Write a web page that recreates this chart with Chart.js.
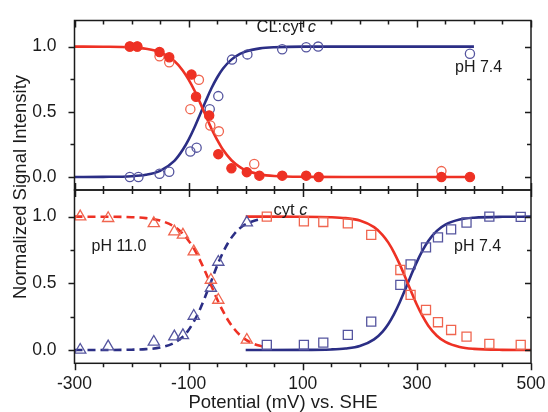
<!DOCTYPE html>
<html>
<head>
<meta charset="utf-8">
<script src="https://cdn.jsdelivr.net/npm/chart.js@4.4.0/dist/chart.umd.min.js"></script>
<style>
  html, body { margin: 0; padding: 0; background: #fff; }
  #wrap { position: relative; width: 548px; height: 412px; }
  #wrap canvas { position: absolute; left: 0; top: 0; }
</style>
</head>
<body>
<div id="wrap">
  <canvas id="topChart" width="548" height="412"></canvas>
  <canvas id="bottomChart" width="548" height="412"></canvas>
</div>
<script>
// axis ticks
var xTicks = [-300, -250, -200, -150, -100, -50, 0, 50, 100, 150, 200, 250, 300, 350, 400, 450, 500];
var xLabels = [-300, -100, 100, 300, 500];
var yTicks = [0, 0.25, 0.5, 0.75, 1];
var yLabels = [0, 0.5, 1];

// top panel: CL:cyt c, pH 7.4 (mV vs SHE)
var topRedPot = [-203, -190, -151, -134, -95, -87, -64, -48, -25, 2, 24, 64, 106, 128, 343, 393];
var topRedFilled = [1.0, 1.0, 0.958, 0.918, 0.785, 0.615, 0.472, 0.175, 0.066, 0.037, 0.01, 0.01, 0.01, 0.0, 0.0, 0.0];
var topRedOpenPot = [-203, -190, -151, -134, -97, -82, -62, -47, 15, 343];
var topRedOpen = [1.0, 1.0, 0.925, 0.88, 0.52, 0.745, 0.395, 0.35, 0.10, 0.045];
var topBluePot = [-203, -188, -151, -134, -97, -86, -63, -48, -24, 3, 64, 106, 127, 393];
var topBlueOpen = [0.0, 0.0, 0.025, 0.04, 0.195, 0.225, 0.52, 0.62, 0.90, 0.94, 0.98, 0.995, 1.0, 0.945];

var topFitPot = [-300, -250, -200, -175, -150, -125, -110, -100, -90, -80, -70, -60, -50, -40, -25, -10, 0, 25, 50, 100, 200, 400];
var topFitRed = [1.0, 0.999, 0.994, 0.983, 0.956, 0.889, 0.815, 0.746, 0.665, 0.57, 0.47, 0.37, 0.285, 0.21, 0.128, 0.075, 0.051, 0.02, 0.007, 0.001, 0, 0];
var topFitBlue = [0, 0.001, 0.006, 0.017, 0.047, 0.123, 0.21, 0.286, 0.377, 0.479, 0.582, 0.68, 0.763, 0.83, 0.9, 0.944, 0.963, 0.986, 0.995, 1.0, 1.0, 1.0];

// bottom panel: cyt c, pH 11.0 (triangles) and pH 7.4 (squares)
var triPot = [-290, -241, -161, -125, -110, -91, -61, -48, 2];
var triRed = [1.0, 0.988, 0.95, 0.888, 0.863, 0.738, 0.525, 0.375, 0.075];
var triBlue = [0.0, 0.025, 0.06, 0.1, 0.11, 0.255, 0.465, 0.66, 0.955];

var sqPot = [37, 102, 136, 179, 220, 271, 289, 316, 337, 360, 387, 427, 482];
var sqRed = [1.0, 0.965, 0.96, 0.95, 0.863, 0.6, 0.413, 0.3, 0.208, 0.15, 0.1, 0.045, 0.0375];
var sqBlue = [0.0375, 0.0375, 0.055, 0.113, 0.213, 0.488, 0.642, 0.77, 0.845, 0.905, 0.956, 1.0, 0.998];

var dashFitPot = [-300, -250, -200, -175, -150, -125, -110, -100, -90, -80, -70, -60, -50, -40, -30, -20, -10, 0, 15, 30];
var dashFitRed = [1.0, 0.9995, 0.996, 0.989, 0.971, 0.925, 0.872, 0.82, 0.755, 0.672, 0.579, 0.48, 0.38, 0.293, 0.217, 0.157, 0.111, 0.077, 0.044, 0.025];
var dashFitBlue = [0, 0, 0.002, 0.006, 0.018, 0.054, 0.1, 0.15, 0.22, 0.306, 0.41, 0.52, 0.633, 0.73, 0.81, 0.87, 0.914, 0.944, 0.97, 0.985];

var solidFitPot = [0, 100, 150, 175, 200, 225, 240, 250, 260, 270, 280, 290, 300, 310, 320, 335, 350, 375, 400, 450, 500];
var solidFitRed = [1.0, 0.9995, 0.996, 0.989, 0.971, 0.921, 0.862, 0.805, 0.731, 0.642, 0.542, 0.438, 0.339, 0.253, 0.182, 0.107, 0.06, 0.022, 0.008, 0.001, 0];
var solidFitBlue = [0, 0.0005, 0.004, 0.011, 0.029, 0.079, 0.138, 0.195, 0.269, 0.358, 0.458, 0.562, 0.661, 0.747, 0.818, 0.893, 0.94, 0.978, 0.992, 0.999, 1.0];

var RED = '#ee3124';
var RED_OPEN = '#f0654f';
var BLUE = '#2b2e85';
var BLUE_OPEN = '#55559f';
var INK = '#1b1b1b';
var FONT = '"Liberation Sans", Arial, sans-serif';

function pts(xs, ys) {
    return xs.map(function (x, i) { return { x: x, y: ys[i] }; });
}

function markers(xs, ys, style, color, filled, radius) {
    return {
        data: pts(xs, ys),
        pointStyle: style,
        pointRadius: radius,
        pointBorderWidth: 1.3,
        borderColor: color,
        backgroundColor: filled ? color : 'rgba(0,0,0,0)',
        showLine: false
    };
}

function fitLine(xs, ys, color, dashed) {
    return {
        data: pts(xs, ys),
        showLine: true,
        borderColor: color,
        borderWidth: 2.6,
        borderDash: dashed ? [8, 5] : [],
        pointRadius: 0,
        cubicInterpolationMode: 'monotone'
    };
}

function drawParts(ctx, parts, x, y, size) {
    parts.forEach(function (p) {
        ctx.font = (p[1] ? 'italic ' : '') + size + 'px ' + FONT;
        ctx.fillText(p[0], x, y);
        x += ctx.measureText(p[0]).width;
    });
}

var framePlugin = {
    id: 'frame',
    afterDatasetsDraw: function (chart, args, opts) {
        var ctx = chart.ctx, a = chart.chartArea;
        var xs = chart.scales.x, ys = chart.scales.y;
        ctx.save();
        ctx.strokeStyle = INK;
        ctx.lineWidth = 1.5;
        ctx.strokeRect(a.left, a.top, a.right - a.left, a.bottom - a.top);
        ctx.beginPath();
        xTicks.forEach(function (v) {
            var px = Math.round(xs.getPixelForValue(v)) + 0.5;
            var len = xLabels.indexOf(v) >= 0 ? 7 : 4;
            if (opts.panel === 'top') {
                ctx.moveTo(px, a.top); ctx.lineTo(px, a.top + len);
                ctx.moveTo(px, a.bottom - len); ctx.lineTo(px, a.bottom + len);
            } else {
                ctx.moveTo(px, a.bottom); ctx.lineTo(px, a.bottom + len);
            }
        });
        yTicks.forEach(function (v) {
            var py = Math.round(ys.getPixelForValue(v)) + 0.5;
            var len = yLabels.indexOf(v) >= 0 ? 6 : 4;
            ctx.moveTo(a.left - len, py); ctx.lineTo(a.left, py);
            ctx.moveTo(a.right - len, py); ctx.lineTo(a.right, py);
        });
        ctx.stroke();

        ctx.fillStyle = INK;
        ctx.textBaseline = 'alphabetic';
        ctx.textAlign = 'left';
        if (opts.panel === 'top') {
            drawParts(ctx, [['CL:cyt ', false], ['c', true]], 256.5, 32, 16.5);
            drawParts(ctx, [['pH 7.4', false]], 455, 72, 16);
        } else {
            drawParts(ctx, [['cyt ', false], ['c', true]], 273.5, 215, 16.5);
            drawParts(ctx, [['pH 11.0', false]], 91.5, 251, 16);
            drawParts(ctx, [['pH 7.4', false]], 454, 251, 16);

            ctx.font = '18.5px ' + FONT;
            ctx.textAlign = 'center';
            ctx.fillText('Potential (mV) vs. SHE', 283, 408);
            ctx.translate(21, 187);
            ctx.rotate(-Math.PI / 2);
            ctx.textBaseline = 'middle';
            ctx.fillText('Normalized Signal Intensity', 0, 0);
        }
        ctx.restore();
    }
};

function panelOptions(panel) {
    var bottom = panel === 'bottom';
    return {
        responsive: false,
        animation: false,
        devicePixelRatio: 1,
        layout: { padding: { left: 0, right: 17, top: bottom ? 190 : 16, bottom: bottom ? 0 : 222 } },
        plugins: {
            legend: { display: false },
            tooltip: { enabled: false },
            frame: { panel: panel }
        },
        scales: {
            x: {
                type: 'linear',
                min: -300,
                max: 500,
                display: bottom,
                afterBuildTicks: function (s) { s.ticks = xTicks.map(function (v) { return { value: v }; }); },
                afterFit: function (s) { s.height = bottom ? 48.7 : 0; },
                grid: { display: false },
                border: { display: false },
                ticks: {
                    autoSkip: false,
                    maxRotation: 0,
                    padding: 2,
                    color: INK,
                    font: { family: FONT, size: 17.5 },
                    callback: function (v) { return xLabels.indexOf(v) >= 0 ? String(v) : ''; }
                }
            },
            y: {
                type: 'linear',
                min: -0.1,
                max: 1.2,
                afterBuildTicks: function (s) { s.ticks = yTicks.map(function (v) { return { value: v }; }); },
                afterFit: function (s) { s.width = 74.5; },
                grid: { display: false },
                border: { display: false },
                ticks: {
                    padding: 10,
                    color: INK,
                    font: { family: FONT, size: 17.5 },
                    callback: function (v) { return yLabels.indexOf(v) >= 0 ? v.toFixed(1) : ''; }
                }
            }
        }
    };
}

new Chart(document.getElementById('topChart').getContext('2d'), {
    type: 'scatter',
    data: {
        datasets: [
            markers(topRedPot, topRedFilled, 'circle', RED, true, 4.6),
            markers(topRedOpenPot, topRedOpen, 'circle', RED_OPEN, false, 4.6),
            markers(topBluePot, topBlueOpen, 'circle', BLUE_OPEN, false, 4.6),
            fitLine(topFitPot, topFitRed, RED, false),
            fitLine(topFitPot, topFitBlue, BLUE, false)
        ]
    },
    options: panelOptions('top'),
    plugins: [framePlugin]
});

new Chart(document.getElementById('bottomChart').getContext('2d'), {
    type: 'scatter',
    data: {
        datasets: [
            markers(triPot, triRed, 'triangle', RED_OPEN, false, 6.5),
            markers(triPot, triBlue, 'triangle', BLUE_OPEN, false, 6.5),
            markers(sqPot, sqRed, 'rect', RED_OPEN, false, 6.4),
            markers(sqPot, sqBlue, 'rect', BLUE_OPEN, false, 6.4),
            fitLine(dashFitPot, dashFitRed, RED, true),
            fitLine(dashFitPot, dashFitBlue, BLUE, true),
            fitLine(solidFitPot, solidFitRed, RED, false),
            fitLine(solidFitPot, solidFitBlue, BLUE, false)
        ]
    },
    options: panelOptions('bottom'),
    plugins: [framePlugin]
});
</script>
</body>
</html>
